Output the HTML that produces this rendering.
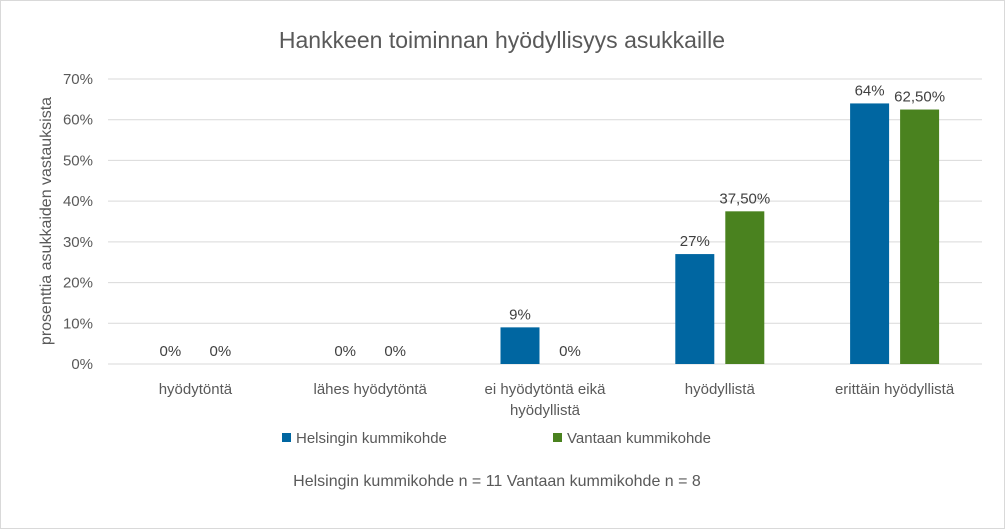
<!DOCTYPE html>
<html><head><meta charset="utf-8"><style>
html,body{margin:0;padding:0;background:#fff}
svg{display:block;font-family:"Liberation Sans",sans-serif}
</style></head><body>
<svg id="chart" width="1005" height="529" viewBox="0 0 1005 529">
<rect x="0.5" y="0.5" width="1004" height="528" fill="#fff" stroke="#d9d9d9"/>
<text x="502" y="48" text-anchor="middle" font-size="23" fill="#595959">Hankkeen toiminnan hyödyllisyys asukkaille</text>
<text transform="translate(51,221) rotate(-90)" text-anchor="middle" font-size="16" fill="#595959">prosenttia asukkaiden vastauksista</text>
<g id="grid"></g><g id="bars"></g><g id="labels"></g>
<g>
<rect x="282" y="433" width="9" height="9" fill="#0066a1"/>
<text x="296" y="443" font-size="15" fill="#595959">Helsingin kummikohde</text>
<rect x="553" y="433" width="9" height="9" fill="#4a821f"/>
<text x="567" y="443" font-size="15" fill="#595959">Vantaan kummikohde</text>
</g>
<text x="497" y="486" text-anchor="middle" font-size="16" fill="#595959">Helsingin kummikohde n = 11 Vantaan kummikohde n = 8</text>
</svg>
<script>
const categories=[["hyödytöntä"],["lähes hyödytöntä"],["ei hyödytöntä eikä","hyödyllistä"],["hyödyllistä"],["erittäin hyödyllistä"]];
const helsinki=[0,0,9,27,64];
const vantaa=[0,0,0,37.5,62.5];
const helsinkiLabels=["0%","0%","9%","27%","64%"];
const vantaaLabels=["0%","0%","0%","37,50%","62,50%"];
const ticks=[0,10,20,30,40,50,60,70];
const ns="http://www.w3.org/2000/svg";
const X0=108,X1=982,Y0=364,Y70=79;
const y=v=>Y0-(v/70)*(Y0-Y70);
const band=(X1-X0)/categories.length;
const cx=i=>X0+band*(i+0.5);
function mk(tag,attrs,parent,txt){const e=document.createElementNS(ns,tag);for(const k in attrs)e.setAttribute(k,attrs[k]);if(txt!=null)e.textContent=txt;document.getElementById(parent).appendChild(e);return e;}
ticks.forEach(t=>{
 const l=mk("line",{x1:X0,x2:X1,y1:y(t),y2:y(t),stroke:"#d9d9d9","stroke-width":1},"grid");
 
 
 const tx=mk("text",{x:93,y:y(t)+5,"text-anchor":"end","font-size":15,fill:"#595959"},"grid",t+"%");
 
 
});
const bw=39,off=25;
categories.forEach((c,i)=>{
 [[helsinki,helsinkiLabels,"#0066a1",-off,"helsinki"],[vantaa,vantaaLabels,"#4a821f",off,"vantaa"]].forEach(([vals,labs,col,o,nm])=>{
  const v=vals[i],bx=cx(i)+o-bw/2;
  const r=mk("rect",{x:bx,y:y(v),width:bw,height:Y0-y(v),fill:col},"bars");
  
  
  const t=mk("text",{x:cx(i)+o,y:y(v)-8,"text-anchor":"middle","font-size":15,fill:"#404040"},"labels",labs[i]);
  
  
 });
 c.forEach((line,j)=>{
  const t=mk("text",{x:cx(i),y:394+j*21,"text-anchor":"middle","font-size":15,fill:"#595959"},"labels",line);
  
  
 });
});
</script>
</body></html>
